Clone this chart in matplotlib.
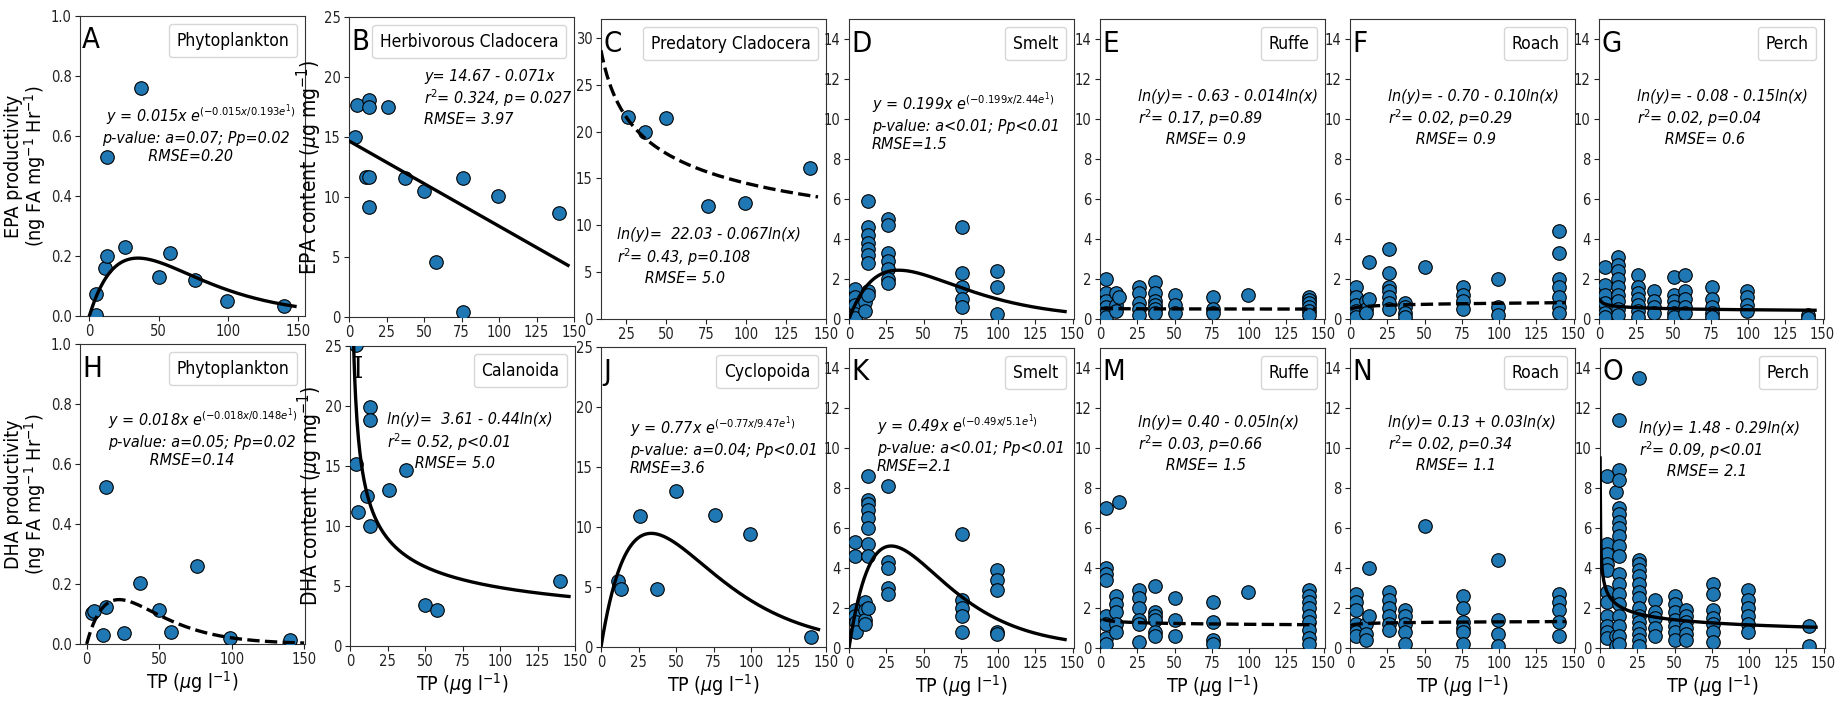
import numpy as np
import matplotlib.pyplot as plt

plt.rcParams['font.family'] = ['DejaVu Sans']
plt.rcParams['font.stretch'] = 'condensed'
plt.rcParams['mathtext.fontset'] = 'dejavusans'

BLUE = '#1f77b4'

# -------------------------
# Plankton: one value per lake
# -------------------------

phyto_epa_tp = [5, 5, 11, 13, 13, 26, 37, 50, 58, 76, 99, 140]
phyto_epa = [0.005, 0.075, 0.16, 0.20, 0.53, 0.23, 0.76, 0.13, 0.21, 0.12, 0.05, 0.035]

herb_clad_tp = [4, 5, 13, 13, 26, 11, 13, 13, 37, 50, 58, 76, 76, 99, 140]
herb_clad_epa = [15.0, 17.7, 18.1, 17.5, 17.5, 11.7, 11.7, 9.2, 11.6, 10.5, 4.6, 11.6, 0.4, 10.1, 8.7]

pred_clad_tp = [26, 37, 50, 76, 99, 140]
pred_clad_epa = [21.6, 20.0, 21.4, 12.1, 12.4, 16.1]

phyto_dha_tp = [4, 5, 11, 13, 13, 26, 37, 50, 58, 76, 99, 140]
phyto_dha = [0.105, 0.11, 0.031, 0.123, 0.525, 0.036, 0.204, 0.112, 0.041, 0.26, 0.019, 0.013]

calan_tp = [4, 4, 5, 11, 13, 13, 13, 26, 37, 50, 58, 140]
calan_dha = [25.1, 15.2, 11.2, 12.5, 19.9, 18.8, 10.0, 13.0, 14.7, 3.4, 3.0, 5.4]

cyclo_tp = [11, 13, 26, 37, 50, 76, 99, 140]
cyclo_dha = [5.5, 4.8, 10.9, 4.8, 13.0, 11.0, 9.4, 0.8]

# -------------------------
# Fish: individuals grouped by lake TP
# -------------------------

smelt_epa = {4: [1.5, 1.1, 0.7, 0.25, 0.03], 11: [0.85, 0.4],
             13: [5.9, 4.6, 4.2, 3.8, 3.5, 3.2, 2.8, 1.4, 1.2],
             26: [5.0, 4.7, 3.3, 2.9, 2.5, 2.0, 1.8],
             76: [4.6, 2.3, 1.6, 1.0, 0.6], 99: [2.4, 1.6, 0.25]}
ruffe_epa = {4: [2.0, 1.3, 0.9, 0.6, 0.3, 0.1], 11: [1.3, 0.7, 0.4], 13: [1.1],
             26: [1.6, 1.3, 0.8, 0.5, 0.2], 37: [1.85, 1.3, 0.9, 0.7, 0.5, 0.3],
             50: [1.2, 0.7, 0.3], 76: [1.1, 0.5, 0.3], 99: [1.2],
             140: [1.1, 0.95, 0.8, 0.6, 0.4, 0.2]}
roach_epa = {4: [1.6, 1.1, 0.7, 0.4, 0.1], 11: [0.9, 0.5, 0.3], 13: [2.85, 1.0],
             26: [3.5, 2.3, 1.6, 1.4, 1.1, 0.8, 0.5], 37: [0.8, 0.6, 0.3, 0.1],
             50: [2.6], 76: [1.6, 1.2, 0.9, 0.5], 99: [2.0, 0.6, 0.2],
             140: [4.4, 3.3, 2.0, 1.6, 1.1, 0.6, 0.3]}
perch_epa = {4: [2.6, 1.7, 1.2, 0.8, 0.3, 0.1],
             13: [3.1, 2.7, 2.4, 2.0, 1.6, 1.2, 0.9, 0.5, 0.2],
             26: [2.2, 1.6, 1.3, 1.0, 0.7, 0.4, 0.1], 37: [1.4, 0.9, 0.6, 0.3],
             50: [2.1, 1.2, 0.9, 0.6, 0.3, 0.1], 58: [2.2, 1.4, 1.0, 0.6, 0.3],
             76: [1.6, 1.0, 0.6, 0.3, 0.1], 99: [1.4, 1.1, 0.7, 0.4], 140: [0.2, 0.05]}

smelt_dha = {4: [5.3, 4.6, 1.9, 1.6], 5: [1.3, 0.8], 11: [2.3, 1.9, 1.4, 1.2],
             13: [8.6, 7.4, 7.2, 6.9, 6.5, 6.0, 5.2, 4.6, 2.0],
             26: [8.1, 4.3, 4.0, 3.0, 2.7], 76: [5.7, 2.4, 2.0, 1.6, 0.8],
             99: [3.9, 3.4, 2.9, 0.8, 0.7]}
ruffe_dha = {4: [7.0, 4.0, 3.7, 3.4, 1.6, 1.2, 0.5, 0.2], 11: [2.6, 2.2, 1.8, 1.2, 0.8],
             13: [7.3], 26: [2.9, 2.5, 2.0, 1.4, 1.2, 0.3],
             37: [3.1, 1.8, 1.6, 1.4, 0.8, 0.6], 50: [2.5, 1.4, 0.6],
             76: [2.3, 1.3, 0.4, 0.2], 99: [2.8],
             140: [2.9, 2.6, 2.3, 2.0, 1.6, 1.3, 0.9, 0.5, 0.2]}
roach_dha = {4: [2.7, 2.3, 1.9, 1.2, 0.8, 0.6], 11: [1.2, 0.7, 0.4], 13: [4.0, 1.6],
             26: [2.8, 2.4, 2.0, 1.6, 1.2, 0.9], 37: [1.9, 1.6, 1.2, 0.8, 0.2],
             50: [6.1], 76: [2.6, 2.0, 1.3, 1.0, 0.8, 0.2], 99: [4.4, 1.4, 0.7, 0.1],
             140: [2.7, 2.3, 1.9, 1.3, 0.6]}
perch_dha = {5: [8.6, 5.2, 4.7, 4.2, 3.9, 2.8, 2.3, 1.6, 1.1, 0.8, 0.5],
             11: [7.8, 0.6, 0.1],
             13: [11.4, 8.9, 8.4, 7.0, 6.7, 6.3, 6.0, 5.6, 5.1, 4.6, 3.7, 3.2, 2.7,
                  2.2, 1.6, 1.1, 0.6, 0.2],
             26: [13.5, 4.4, 4.2, 3.9, 3.6, 3.2, 2.8, 2.5, 2.0, 1.6, 1.3, 1.0, 0.7,
                  0.4, 0.1],
             37: [2.4, 1.8, 1.5, 1.0, 0.6], 50: [2.6, 2.2, 1.8, 1.4, 1.1, 0.8, 0.4],
             58: [1.9, 1.6, 1.3, 1.0, 0.7, 0.4], 76: [3.2, 2.7, 1.9, 1.5, 1.2, 0.8, 0.3],
             99: [2.9, 2.4, 2.0, 1.6, 1.2, 0.8], 140: [1.1, 0.1]}

# -------------------------
# Fitted model parameters
# -------------------------

# y = a x exp(-a x / (P e))
ricker_A = (0.015, 0.193)
ricker_D = (0.199, 2.44)
ricker_H = (0.018, 0.148)
ricker_J = (0.77, 9.47)
ricker_K = (0.49, 5.1)
# y = intercept + slope x
linear_B = (14.67, -0.071)
# ln(y) = c + b ln(x)
power_C = (3.99, -0.286)
power_E = (-0.63, -0.014)
power_F = (-0.70, 0.10)
power_G = (-0.08, -0.15)
power_I = (3.61, -0.44)
power_M = (0.40, -0.05)
power_N = (0.13, 0.03)
power_O = (1.48, -0.29)


def ricker(x, p):
    a, pp = p
    return a * x * np.exp(-a * x / (pp * np.e))


def power(x, p):
    c, b = p
    return np.exp(c) * x ** b


def linear(x, p):
    return p[0] + p[1] * x


def spread(groups):
    xs, ys = [], []
    for tp, vals in groups.items():
        xs += [tp] * len(vals)
        ys += vals
    return xs, ys


W, H = 1843, 702
fig = plt.figure(figsize=(W / 100, H / 100), dpi=100)

TOP_LEFTS = [80, 349, 601, 849, 1100, 1350, 1599]
BOT_LEFTS = [80, 350, 601, 849, 1100, 1350, 1600]


def make_ax(left, top):
    return fig.add_axes([left / W, 1 - (top + 300) / H, 225 / W, 300 / H])


def panel(ax, x, y, letter, name, eq, eq_pos, fit_x, fit_y, dashed,
          xlim, ylim, xticks, yticks, letter_family=None):
    ax.scatter(x, y, s=95, color=BLUE, edgecolor='black', linewidth=0.8, zorder=3)
    ax.plot(fit_x, fit_y, color='black', linewidth=2.4,
            linestyle='--' if dashed else '-', zorder=4)
    ax.set_xlim(*xlim)
    ax.set_ylim(*ylim)
    ax.set_xticks(xticks)
    ax.set_yticks(yticks)
    ax.tick_params(labelsize=10.5, length=3.5, pad=2.5, colors='#222222')
    for sp in ax.spines.values():
        sp.set_color('#333333')
    ax.text(0.01, 0.965, letter, transform=ax.transAxes, fontsize=21,
            va='top', ha='left', family=letter_family or 'DejaVu Sans')
    ax.text(eq_pos[0], eq_pos[1], eq, transform=ax.transAxes, fontsize=11.5,
            style='italic', va='center', ha='left', linespacing=1.25)
    h = plt.Line2D([], [], linestyle='none')
    ax.legend([h], [name], loc='upper right', handlelength=0, handletextpad=0,
              fontsize=12.5, borderaxespad=0.45, borderpad=0.45)


# -------------------------
# Top row: EPA
# -------------------------

ax = make_ax(TOP_LEFTS[0], 16)
fx = np.linspace(0, 148, 300)
panel(ax, phyto_epa_tp, phyto_epa, 'A', 'Phytoplankton',
      ' y = 0.015x e$^{(-0.015x/0.193e^1)}$\np-value: a=0.07; Pp=0.02\n          RMSE=0.20',
      (0.098, 0.61), fx, ricker(fx, ricker_A), False,
      (-6.7, 155.2), (0, 1.0), [0, 50, 100, 150], np.arange(0, 1.01, 0.2))
ax.set_ylabel('EPA productivity\n(ng FA mg$^{-1}$ Hr$^{-1}$)', fontsize=14,
              linespacing=0.95, labelpad=2)

ax = make_ax(TOP_LEFTS[1], 17)
fx = np.linspace(0, 146, 50)
panel(ax, herb_clad_tp, herb_clad_epa, 'B', 'Herbivorous Cladocera',
      'y= 14.67 - 0.071x\nr$^2$= 0.324, p= 0.027\nRMSE= 3.97',
      (0.333, 0.73), fx, linear(fx, linear_B), False,
      (0, 150), (0, 25), range(0, 151, 25), range(0, 26, 5))
ax.set_ylabel('EPA content ($\\mu$g mg$^{-1}$)', fontsize=15, labelpad=0)

ax = make_ax(TOP_LEFTS[2], 19)
fx = np.linspace(9.2, 145, 300)
panel(ax, pred_clad_tp, pred_clad_epa, 'C', 'Predatory Cladocera',
      'ln(y)=  22.03 - 0.067ln(x)\nr$^2$= 0.43, p=0.108\n      RMSE= 5.0',
      (0.071, 0.207), fx, power(fx, power_C), True,
      (9.2, 150), (0, 32), range(25, 151, 25), range(0, 31, 5))

fish_top = [
    (smelt_epa, 'D', 'Smelt', ricker, ricker_D, False, 0.0,
     'y = 0.199x e$^{(-0.199x/2.44e^1)}$\np-value: a<0.01; Pp<0.01\nRMSE=1.5', (0.102, 0.66)),
    (ruffe_epa, 'E', 'Ruffe', power, power_E, True, 0.5,
     'ln(y)= - 0.63 - 0.014ln(x)\nr$^2$= 0.17, p=0.89\n      RMSE= 0.9', (0.169, 0.67)),
    (roach_epa, 'F', 'Roach', power, power_F, True, 0.5,
     'ln(y)= - 0.70 - 0.10ln(x)\nr$^2$= 0.02, p=0.29\n      RMSE= 0.9', (0.169, 0.67)),
    (perch_epa, 'G', 'Perch', power, power_G, False, 1.0,
     'ln(y)= - 0.08 - 0.15ln(x)\nr$^2$= 0.02, p=0.04\n      RMSE= 0.6', (0.169, 0.67)),
]
for i, (groups, letter, name, model, params, dashed, x0, eq, pos) in enumerate(fish_top):
    ax = make_ax(TOP_LEFTS[3 + i], 19)
    xs, ys = spread(groups)
    fx = np.linspace(x0, 145, 300)
    panel(ax, xs, ys, letter, name, eq, pos, fx, model(fx, params), dashed,
          (0, 151), (0, 15), range(0, 151, 25), range(0, 15, 2))

# -------------------------
# Bottom row: DHA
# -------------------------

xlab = 'TP ($\\mu$g l$^{-1}$)'

ax = make_ax(BOT_LEFTS[0], 344)
fx = np.linspace(0, 150, 300)
panel(ax, phyto_dha_tp, phyto_dha, 'H', 'Phytoplankton',
      'y = 0.018x e$^{(-0.018x/0.148e^1)}$\np-value: a=0.05; Pp=0.02\n         RMSE=0.14',
      (0.124, 0.69), fx, ricker(fx, ricker_H), True,
      (-4.6, 150.6), (0, 1.0), [0, 50, 100, 150], np.arange(0, 1.01, 0.2))
ax.set_ylabel('DHA productivity\n(ng FA mg$^{-1}$ Hr$^{-1}$)', fontsize=14,
              linespacing=0.95, labelpad=2)
ax.set_xlabel(xlab, fontsize=14, labelpad=1)

ax = make_ax(BOT_LEFTS[1], 346)
fx = np.linspace(1.8, 146, 300)
panel(ax, calan_tp, calan_dha, 'I', 'Calanoida',
      'ln(y)=  3.61 - 0.44ln(x)\nr$^2$= 0.52, p<0.01\n      RMSE= 5.0',
      (0.164, 0.683), fx, power(fx, power_I), False,
      (0, 150), (0, 25), range(0, 151, 25), range(0, 26, 5), letter_family='DejaVu Serif')
ax.set_ylabel('DHA content ($\\mu$g mg$^{-1}$)', fontsize=15, labelpad=0)
ax.set_xlabel(xlab, fontsize=14, labelpad=1)

ax = make_ax(BOT_LEFTS[2], 347)
fx = np.linspace(0, 145, 300)
panel(ax, cyclo_tp, cyclo_dha, 'J', 'Cyclopoida',
      'y = 0.77x e$^{(-0.77x/9.47e^1)}$\np-value: a=0.04; Pp<0.01\nRMSE=3.6',
      (0.129, 0.673), fx, ricker(fx, ricker_J), False,
      (0, 150), (0, 25), range(0, 151, 25), range(0, 26, 5))
ax.set_xlabel(xlab, fontsize=14, labelpad=1)

fish_bot = [
    (smelt_dha, 'K', 'Smelt', ricker, ricker_K, False, 0.0,
     'y = 0.49x e$^{(-0.49x/5.1e^1)}$\np-value: a<0.01; Pp<0.01\nRMSE=2.1', (0.124, 0.683)),
    (ruffe_dha, 'M', 'Ruffe', power, power_M, True, 2.0,
     'ln(y)= 0.40 - 0.05ln(x)\nr$^2$= 0.03, p=0.66\n      RMSE= 1.5', (0.169, 0.68)),
    (roach_dha, 'N', 'Roach', power, power_N, True, 0.5,
     'ln(y)= 0.13 + 0.03ln(x)\nr$^2$= 0.02, p=0.34\n      RMSE= 1.1', (0.169, 0.68)),
    (perch_dha, 'O', 'Perch', power, power_O, False, 0.07,
     'ln(y)= 1.48 - 0.29ln(x)\nr$^2$= 0.09, p<0.01\n      RMSE= 2.1', (0.173, 0.66)),
]
for i, (groups, letter, name, model, params, dashed, x0, eq, pos) in enumerate(fish_bot):
    ax = make_ax(BOT_LEFTS[3 + i], 348)
    xs, ys = spread(groups)
    fx = np.linspace(x0, 145, 400)
    panel(ax, xs, ys, letter, name, eq, pos, fx, model(fx, params), dashed,
          (0, 151), (0, 15), range(0, 151, 25), range(0, 15, 2))
    ax.set_xlabel(xlab, fontsize=14, labelpad=1)

fig.savefig('out.png', dpi=100)
